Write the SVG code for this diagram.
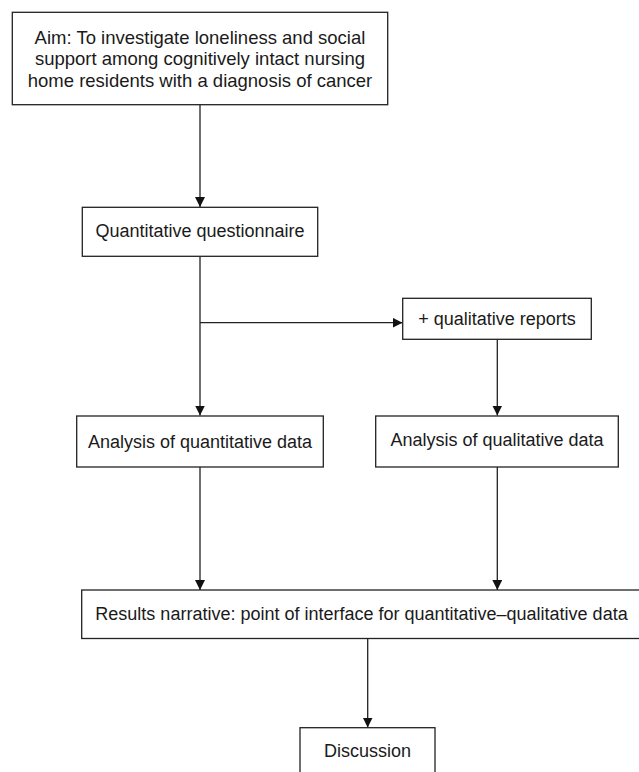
<svg xmlns="http://www.w3.org/2000/svg" width="639" height="772" viewBox="0 0 639 772">
<style>
.box{fill:#fff;stroke:#222;stroke-width:1.3}
.t{font-family:"Liberation Sans",Arial,sans-serif;font-size:18px;fill:#1a1a1a;text-anchor:middle}
.c{stroke:#222;stroke-width:1.3;fill:none;marker-end:url(#ah)}
</style>
<defs>
<marker id="ah" markerWidth="10" markerHeight="10" refX="10" refY="5" orient="auto" markerUnits="userSpaceOnUse">
<path d="M0,0 L10,5 L0,10 Z" fill="#111"/>
</marker>
</defs>
<rect width="639" height="772" fill="#fff"/>
<g id="connectors">
<line class="c" x1="200" y1="104.5" x2="200" y2="207"/>
<line class="c" x1="200" y1="256.5" x2="200" y2="415.5"/>
<line class="c" x1="200" y1="322.7" x2="402.5" y2="322.7"/>
<line class="c" x1="497.3" y1="339.5" x2="497.3" y2="415.5"/>
<line class="c" x1="200" y1="467" x2="200" y2="590"/>
<line class="c" x1="497.3" y1="467" x2="497.3" y2="590"/>
<line class="c" x1="367.7" y1="638.5" x2="367.7" y2="727.5"/>
</g>
<g id="aim">
<rect class="box" x="12.3" y="12.3" width="375.4" height="92.4"/>
<text class="t" x="200" y="43.5" style="font-size:18.5px">Aim: To investigate loneliness and social</text>
<text class="t" x="200" y="65" style="font-size:18.5px">support among cognitively intact nursing</text>
<text class="t" x="200" y="86.5" style="font-size:18.5px">home residents with a diagnosis of cancer</text>
</g>
<g id="questionnaire">
<rect class="box" x="82.3" y="207.3" width="235.4" height="49"/>
<text class="t" x="200" y="237">Quantitative questionnaire</text>
</g>
<g id="qualitative-reports">
<rect class="box" x="402.7" y="298.3" width="188.6" height="41"/>
<text class="t" x="497" y="324.5">+ qualitative reports</text>
</g>
<g id="analysis-quant">
<rect class="box" x="76.7" y="416" width="246.6" height="51"/>
<text class="t" x="200" y="448">Analysis of quantitative data</text>
</g>
<g id="analysis-qual">
<rect class="box" x="375.7" y="416" width="242.6" height="51"/>
<text class="t" x="497" y="446">Analysis of qualitative data</text>
</g>
<g id="results">
<rect class="box" x="81.7" y="590" width="570" height="48.5"/>
<text class="t" x="361.5" y="619.5">Results narrative: point of interface for quantitative–qualitative data</text>
</g>
<g id="discussion">
<rect class="box" x="300" y="727.7" width="135" height="60"/>
<text class="t" x="367.5" y="757">Discussion</text>
</g>
</svg>
